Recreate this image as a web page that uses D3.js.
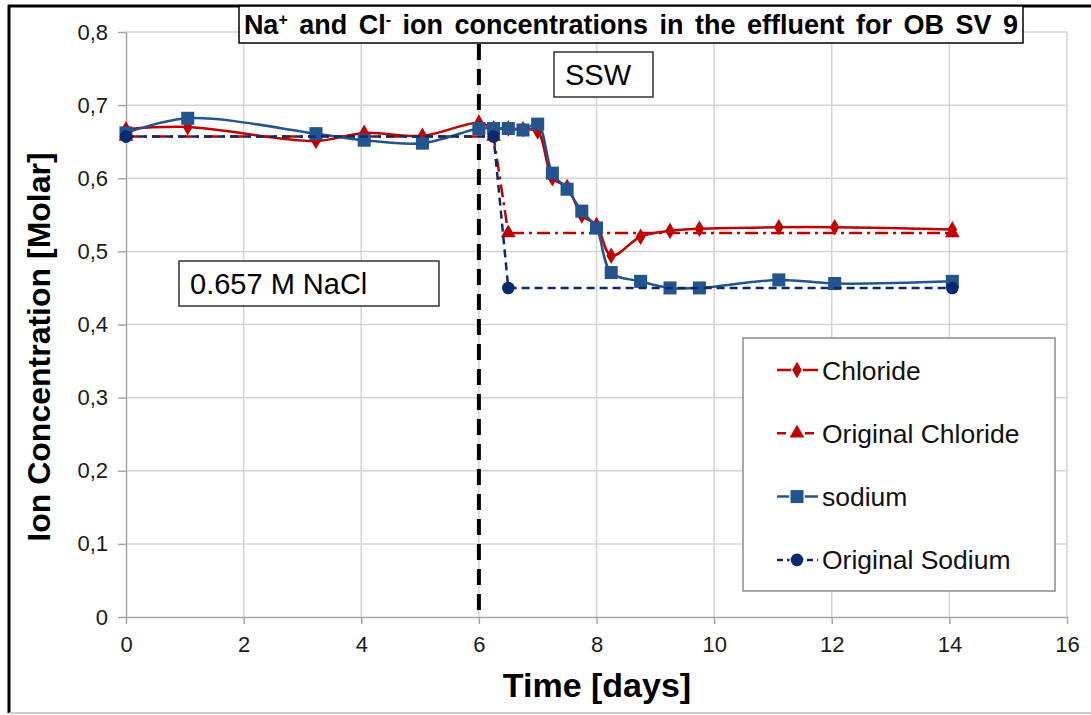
<!DOCTYPE html>
<html lang="en">
<head>
  <meta charset="UTF-8">
  <title>Na+ and Cl- ion concentrations</title>
  <script src="https://d3js.org/d3.v7.min.js"></script>
  <style>
    body { margin: 0; background: #fff; }
    svg { font-family: Arial, "Liberation Sans", sans-serif; }
    .grid line { stroke: #d4d4d4; stroke-width: 1.5; }
    .axis path, .axis line { stroke: #a6a6a6; stroke-width: 1.5; }
    .axis text { font-size: 22px; fill: #1a1a1a; }
  </style>
</head>
<body>
<script>
// data
var days = [0, 1.05, 3.23, 4.05, 5.04, 6.0, 6.25, 6.5, 6.75, 7.0, 7.25, 7.5, 7.75, 8.0, 8.25, 8.75, 9.25, 9.75, 11.1, 12.05, 14.05];
var chloride = [0.667, 0.670, 0.651, 0.662, 0.658, 0.676, 0.668, 0.668, 0.667, 0.664, 0.600, 0.588, 0.549, 0.536, 0.494, 0.520, 0.528, 0.531, 0.533, 0.533, 0.530];
var sodium = [0.662, 0.682, 0.661, 0.652, 0.648, 0.668, 0.668, 0.668, 0.666, 0.674, 0.607, 0.585, 0.555, 0.532, 0.471, 0.459, 0.450, 0.450, 0.461, 0.456, 0.459];
var origDays = [0, 6.25, 6.5, 14.05];
var origChloride = [0.657, 0.657, 0.525, 0.525];
var origSodium = [0.657, 0.657, 0.450, 0.450];
var xTicks = [0, 2, 4, 6, 8, 10, 12, 14, 16];
var yTicks = [0, 0.1, 0.2, 0.3, 0.4, 0.5, 0.6, 0.7, 0.8];
var switchDay = 6;

var w = 1091, h = 715;
var svg = d3.select("body").append("svg").attr("width", w).attr("height", h);

var x = d3.scaleLinear().domain([0, 16]).range([126, 1067]);
var y = d3.scaleLinear().domain([0, 0.8]).range([617, 32]);

// gridlines
svg.append("g").attr("class", "grid")
  .selectAll("line.h").data(yTicks.slice(1)).enter().append("line")
  .attr("x1", x(0)).attr("x2", x(16))
  .attr("y1", d => y(d)).attr("y2", d => y(d));
svg.append("g").attr("class", "grid")
  .selectAll("line.v").data(xTicks.slice(1)).enter().append("line")
  .attr("x1", d => x(d)).attr("x2", d => x(d))
  .attr("y1", y(0)).attr("y2", y(0.8));

var fmt = d => d === 0 ? "0" : d3.format(".1f")(d).replace(".", ",");

svg.append("g").attr("class", "axis")
  .attr("transform", "translate(0," + y(0) + ")")
  .call(d3.axisBottom(x).tickValues(xTicks).tickSize(7).tickPadding(8).tickSizeOuter(0))
  .call(g => g.selectAll("text").attr("dy", "0.9em"));
svg.append("g").attr("class", "axis")
  .attr("transform", "translate(" + x(0) + ",0)")
  .call(d3.axisLeft(y).tickValues(yTicks).tickFormat(fmt).tickSize(8).tickPadding(10).tickSizeOuter(0));

// SSW switch line
svg.append("line")
  .attr("x1", x(switchDay)).attr("x2", x(switchDay))
  .attr("y1", y(0.8) + 12).attr("y2", y(0))
  .attr("stroke", "#000").attr("stroke-width", 4)
  .attr("stroke-dasharray", "16,9");

var red = "#c00000", blue = "#23548e", navy = "#0b2a6e";

function pts(xs, ys) { return xs.map((d, i) => [d, ys[i]]); }

var smooth = d3.line().x(d => x(d[0])).y(d => y(d[1])).curve(d3.curveCatmullRom.alpha(0.5));
var straight = d3.line().x(d => x(d[0])).y(d => y(d[1]));

var series = [
  { name: "Chloride", data: pts(days, chloride), color: red, dash: null, line: smooth, marker: "diamond" },
  { name: "Original Chloride", data: pts(origDays, origChloride), color: red, dash: "13,5,3,5", line: straight, marker: "triangle" },
  { name: "sodium", data: pts(days, sodium), color: blue, dash: null, line: smooth, marker: "square" },
  { name: "Original Sodium", data: pts(origDays, origSodium), color: navy, dash: "8,5", line: straight, marker: "circle" }
];

var symbols = {
  diamond: d3.symbol().type(d3.symbolDiamond).size(80),
  triangle: d3.symbol().type(d3.symbolTriangle).size(95),
  square: d3.symbol().type(d3.symbolSquare).size(170),
  circle: d3.symbol().type(d3.symbolCircle).size(125)
};

series.forEach(function (s) {
  svg.append("path")
    .attr("d", s.line(s.data))
    .attr("fill", "none")
    .attr("stroke", s.color)
    .attr("stroke-width", 2.5)
    .attr("stroke-dasharray", s.dash);
  svg.append("g").selectAll("path").data(s.data).enter().append("path")
    .attr("transform", d => "translate(" + x(d[0]) + "," + y(d[1]) + ")")
    .attr("d", symbols[s.marker]())
    .attr("fill", s.color);
});

// annotation boxes
function box(x0, y0, bw, bh, txt, size) {
  svg.append("rect").attr("x", x0).attr("y", y0).attr("width", bw).attr("height", bh)
    .attr("fill", "#fff").attr("stroke", "#333").attr("stroke-width", 1.5);
  svg.append("text").attr("x", x0 + 11).attr("y", y0 + bh / 2)
    .attr("dy", "0.36em").attr("font-size", size).text(txt);
}
box(179, 261, 260, 45, "0.657 M NaCl", 29);
box(554, 52, 99, 45, "SSW", 29);

// legend
var lg = svg.append("g");
lg.append("rect").attr("x", 743).attr("y", 338).attr("width", 312).attr("height", 253)
  .attr("fill", "#fff").attr("stroke", "#8c8c8c").attr("stroke-width", 1.5);
series.forEach(function (s, i) {
  var ly = 370 + i * 63.3;
  lg.append("line").attr("x1", 777).attr("x2", 818).attr("y1", ly).attr("y2", ly)
    .attr("stroke", s.color).attr("stroke-width", 2.5)
    .attr("stroke-dasharray", s.dash ? (s.marker === "triangle" ? "9,5" : "6,4") : null);
  lg.append("path").attr("transform", "translate(797," + ly + ")")
    .attr("d", symbols[s.marker]()).attr("fill", s.color)
    .attr("stroke", "#fff").attr("stroke-width", 2.5).attr("paint-order", "stroke");
  lg.append("text").attr("x", 822).attr("y", ly).attr("dy", "0.36em")
    .attr("font-size", 26.5).attr("fill", "#111").text(s.name);
});

// axis titles
svg.append("text").attr("x", 597).attr("y", 697).attr("text-anchor", "middle")
  .attr("font-size", 34).attr("font-weight", "bold").text("Time [days]");
svg.append("text").attr("transform", "translate(50,347) rotate(-90)").attr("text-anchor", "middle")
  .attr("font-size", 32).attr("font-weight", "bold").text("Ion Concentration [Molar]");

// frame
svg.append("line").attr("x1", 9).attr("x2", 9).attr("y1", 5).attr("y2", 713).attr("stroke", "#000").attr("stroke-width", 3);
svg.append("line").attr("x1", 8).attr("x2", 1091).attr("y1", 6).attr("y2", 6).attr("stroke", "#000").attr("stroke-width", 3);
svg.append("line").attr("x1", 9).attr("x2", 1091).attr("y1", 713).attr("y2", 713).attr("stroke", "#bbb").attr("stroke-width", 1.5);

// title box
svg.append("rect").attr("x", 239).attr("y", 6).attr("width", 784).attr("height", 37)
  .attr("fill", "#fff").attr("stroke", "#000").attr("stroke-width", 1.5);
var title = svg.append("text").attr("x", 631).attr("y", 34).attr("text-anchor", "middle")
  .attr("font-size", 27).attr("font-weight", "bold").attr("word-spacing", 4);
title.append("tspan").text("Na");
title.append("tspan").attr("font-size", 16).attr("dy", -9).text("+");
title.append("tspan").attr("dy", 9).text(" and Cl");
title.append("tspan").attr("font-size", 16).attr("dy", -9).text("-");
title.append("tspan").attr("dy", 9).text(" ion concentrations in the effluent for OB SV 9");
</script>
</body>
</html>
